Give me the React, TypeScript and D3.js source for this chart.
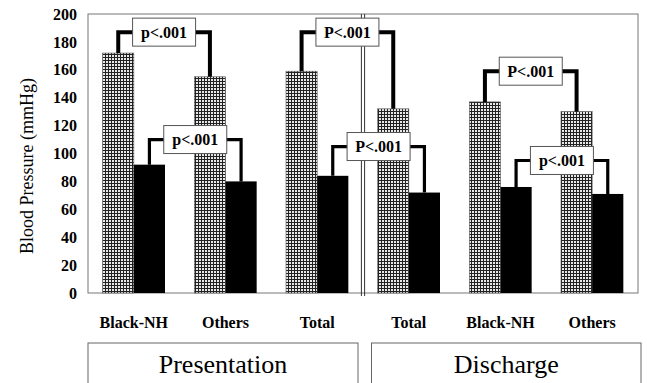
import * as d3 from "d3";
import React, { useRef, useEffect } from "react";

const W = 647;
const H = 383;

// groups left to right, with the phase each belongs to
const groups = ["Black-NH", "Others", "Total", "Total", "Black-NH", "Others"];
const phases = ["Presentation", "Discharge"];
const series = ["Systolic", "Diastolic"];

const systolic = [172, 155, 159, 132, 137, 130];
const diastolic = [92, 80, 84, 72, 76, 71];

const yTicks = [0, 20, 40, 60, 80, 100, 120, 140, 160, 180, 200];

// significance brackets: [group a, group b, series index, bracket height, label]
const brackets: [number, number, number, number, string][] = [
  [0, 1, 0, 187, "p<.001"],
  [0, 1, 1, 110, "p<.001"],
  [2, 3, 0, 187, "P<.001"],
  [2, 3, 1, 105, "P<.001"],
  [4, 5, 0, 159, "P<.001"],
  [4, 5, 1, 95, "p<.001"],
];

const font = "'Liberation Serif', 'Times New Roman', serif";

function App() {
  const ref = useRef<SVGSVGElement>(null);

  useEffect(() => {
    const svg = d3.select(ref.current);
    svg.selectAll("*").remove();

    const left = 88, right = 638, top = 14, bottom = 293;
    const idx = groups.map((_, i) => String(i));

    const x = d3.scaleBand().domain(idx).range([left, right]).paddingInner(0.32).paddingOuter(0.16);
    const xs = d3.scaleBand().domain(series).range([0, x.bandwidth()]);
    const y = d3.scaleLinear().domain([0, 200]).range([bottom, top]);

    const defs = svg.append("defs");
    const pat = defs.append("pattern").attr("id", "grid")
      .attr("width", 3).attr("height", 3).attr("patternUnits", "userSpaceOnUse");
    pat.append("rect").attr("width", 3).attr("height", 3).attr("fill", "#e8e8e8");
    pat.append("rect").attr("width", 3).attr("height", 1).attr("fill", "#222");
    pat.append("rect").attr("width", 1).attr("height", 3).attr("fill", "#222");

    // plot frame
    svg.append("rect")
      .attr("x", left).attr("y", top)
      .attr("width", right - left).attr("height", bottom - top)
      .attr("fill", "none").attr("stroke", "#777").attr("stroke-width", 1);

    // y tick labels
    svg.append("g").selectAll("text").data(yTicks).enter().append("text")
      .attr("x", 77).attr("y", d => y(d))
      .attr("dy", "0.35em")
      .attr("text-anchor", "end")
      .style("font-family", font).attr("font-weight", "bold").attr("font-size", 16)
      .text(d => d);

    svg.append("text")
      .attr("text-anchor", "middle")
      .attr("transform", "translate(33,166)rotate(-90)")
      .style("font-family", font).attr("font-size", 18)
      .text("Blood Pressure (mmHg)");

    const vals = [systolic, diastolic];
    const barX = (g: number, s: number) => (x(String(g)) as number) + (xs(series[s]) as number);

    series.forEach((s, si) => {
      svg.append("g").selectAll("rect").data(vals[si]).enter().append("rect")
        .attr("x", (d, i) => barX(i, si))
        .attr("y", d => y(d))
        .attr("width", xs.bandwidth())
        .attr("height", d => bottom - y(d))
        .attr("fill", si === 0 ? "url(#grid)" : "#000")
        .attr("stroke", si === 0 ? "#555" : "none")
        .attr("stroke-width", 0.6);
    });

    // divider between phases
    const divX = ((x("2") as number) + x.bandwidth() + (x("3") as number)) / 2;
    [-1.6, 1.6].forEach(o => {
      svg.append("line")
        .attr("x1", divX + o).attr("x2", divX + o)
        .attr("y1", top).attr("y2", bottom + 3)
        .attr("stroke", "#333").attr("stroke-width", 1);
    });

    // brackets
    const bw = 63, bh = 28;
    brackets.forEach(([a, b, s, h, label]) => {
      const xa = barX(a, s) + xs.bandwidth() / 2;
      const xb = barX(b, s) + xs.bandwidth() / 2;
      const ya = y(vals[s][a]);
      const yb = y(vals[s][b]);
      const yt = y(h);
      svg.append("path")
        .attr("d", `M${xa},${ya}V${yt}H${xb}V${yb}`)
        .attr("fill", "none").attr("stroke", "#000")
        .attr("stroke-width", s === 0 ? 4 : 3.2)
        .attr("stroke-linejoin", "miter");
      const cx = (xa + xb) / 2;
      svg.append("rect")
        .attr("x", cx - bw / 2).attr("y", yt - bh / 2)
        .attr("width", bw).attr("height", bh)
        .attr("fill", "#fff").attr("stroke", "#555").attr("stroke-width", 1);
      svg.append("text")
        .attr("x", cx).attr("y", yt)
        .attr("dy", "0.35em").attr("text-anchor", "middle")
        .style("font-family", font).attr("font-weight", "bold").attr("font-size", 16)
        .text(label);
    });

    // category labels
    svg.append("g").selectAll("text").data(groups).enter().append("text")
      .attr("x", (d, i) => (x(String(i)) as number) + x.bandwidth() / 2)
      .attr("y", 328)
      .attr("text-anchor", "middle")
      .style("font-family", font).attr("font-weight", "bold").attr("font-size", 16)
      .text(d => d);

    // phase boxes
    phases.forEach((p, pi) => {
      const x0 = pi === 0 ? left : divX + 8.5;
      const x1 = pi === 0 ? divX - 5 : right + 3;
      svg.append("rect")
        .attr("x", x0).attr("y", 343)
        .attr("width", x1 - x0).attr("height", 60)
        .attr("fill", "none").attr("stroke", "#666").attr("stroke-width", 1);
      svg.append("text")
        .attr("x", (x0 + x1) / 2).attr("y", 373)
        .attr("text-anchor", "middle")
        .style("font-family", font).attr("font-size", 26)
        .text(p);
    });
  }, []);

  return (
    <svg ref={ref} width={W} height={H}
      style={{ position: "absolute", left: 0, top: 0, background: "#fff" }} />
  );
}

export default App;
